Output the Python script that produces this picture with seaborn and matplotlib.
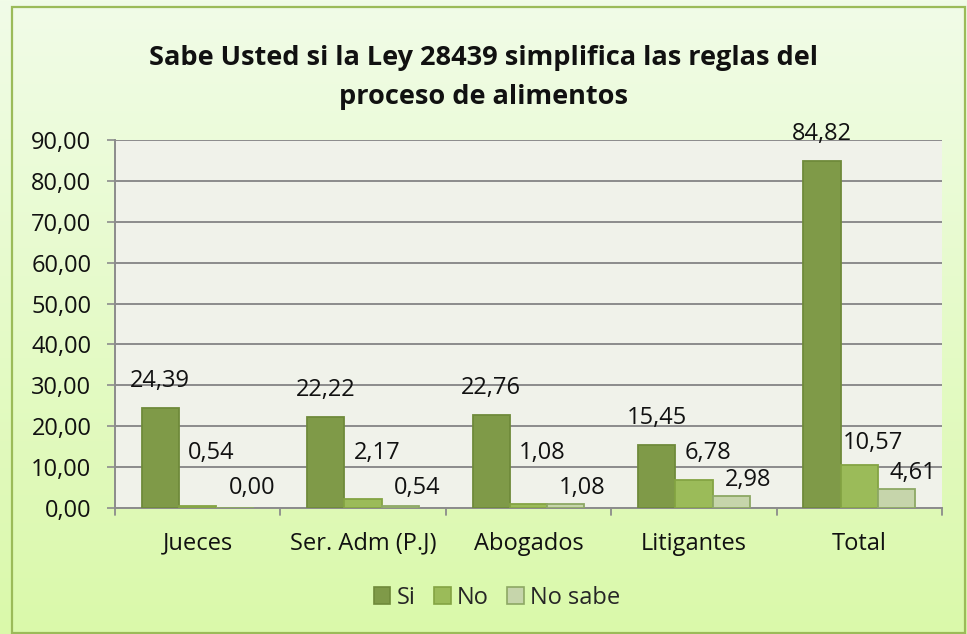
import numpy as np
import pandas as pd
import matplotlib
matplotlib.use("Agg")
import matplotlib.pyplot as plt
from matplotlib.patches import Rectangle
from matplotlib.colors import LinearSegmentedColormap
import seaborn as sns

categories = ["Jueces", "Ser. Adm (P.J)", "Abogados", "Litigantes", "Total"]
series = ["Si", "No", "No sabe"]
si_vals = [24.39, 22.22, 22.76, 15.45, 84.82]
no_vals = [0.54, 2.17, 1.08, 6.78, 10.57]
nosabe_vals = [0.00, 0.54, 1.08, 2.98, 4.61]
yticks = [0, 10, 20, 30, 40, 50, 60, 70, 80, 90]
title_lines = ["Sabe Usted si la Ley 28439 simplifica las reglas del", "proceso de alimentos"]

rows = []
for s, vals in zip(series, [si_vals, no_vals, nosabe_vals]):
    for c, v in zip(categories, vals):
        rows.append({"cat": c, "serie": s, "val": v})
df = pd.DataFrame(rows)

sns.set_theme(style="white")
plt.rcParams['font.family'] = ['Open Sans', 'DejaVu Sans']

W, H = 967, 634
fig = plt.figure(figsize=(W / 100, H / 100), dpi=100)

# gradient background with border
bg = fig.add_axes([0, 0, 1, 1], zorder=-10)
cmap = LinearSegmentedColormap.from_list("g", ["#F1FCE8", "#DAF9AA"])
grad = np.linspace(0, 1, 256).reshape(-1, 1)
bg.imshow(grad, aspect="auto", cmap=cmap, extent=[0, 1, 0, 1], origin="upper")
bg.set_xlim(0, 1); bg.set_ylim(0, 1)
bg.axis("off")
bg.add_patch(Rectangle((12 / W, 1 - 633 / H), (965 - 12) / W, (633 - 7) / H, fill=False,
                       edgecolor="#9BBB59", linewidth=1.6, transform=bg.transAxes))

L, R, T, B = 115, 942, 140, 508
ax = fig.add_axes([L / W, 1 - B / H, (R - L) / W, (B - T) / H])
ax.set_facecolor("#F0F2EA")

colors = {"Si": "#7F9A48", "No": "#9BBB59", "No sabe": "#C6D5AB"}
edges = {"Si": "#6F8A3A", "No": "#84A443", "No sabe": "#8DA864"}
sns.barplot(data=df, x="cat", y="val", hue="serie", palette=colors,
            width=0.677, ax=ax, saturation=1, legend=True, zorder=3)

ax.set_ylim(0, 90)
ax.set_xlim(-0.5, 4.5)

# label placement rule (Excel-like, keeps small labels clear of the axis)
label_rule = {"Si": (6.6, 0.0, 0), "No": (5.4, 13.45, 10), "No sabe": (3.9, 4.9, 12)}
for cont, s in zip(ax.containers, series):
    lift, floor, dx = label_rule[s]
    for p, v in zip(cont.patches, cont.datavalues):
        p.set_edgecolor(edges[s]); p.set_linewidth(1.3)
        xc = p.get_x() + p.get_width() / 2
        yc = max(v + lift, floor)
        ax.annotate(f"{v:.2f}".replace(".", ","), (xc, yc), xytext=(dx, 0),
                    textcoords="offset points", ha="center", va="center",
                    fontsize=17, color="#111111", zorder=6, annotation_clip=False)

ax.set_yticks(yticks)
ax.set_yticklabels([f"{v:.2f}".replace(".", ",") for v in yticks], fontsize=17, color="#111111")
ax.set_xticks(range(len(categories)))
ax.set_xticklabels(categories, fontsize=17, color="#111111")
ax.yaxis.grid(True, color="#8C8C8C", linewidth=1.4, zorder=0)
ax.set_axisbelow(True)
ax.set_xlabel(""); ax.set_ylabel("")
ax.tick_params(axis="x", length=0, pad=17)
ax.tick_params(axis="y", left=True, length=6, width=1.2, color="#8C8C8C", pad=11)
for sp in ["top", "right"]:
    ax.spines[sp].set_visible(False)
for sp in ["left", "bottom"]:
    ax.spines[sp].set_color("#8C8C8C")
    ax.spines[sp].set_linewidth(1.4)
# category separator ticks on x-axis
for xb in np.arange(-0.5, 5.0, 1.0):
    ax.plot([xb, xb], [0, -1.7], color="#8C8C8C", lw=1.3, clip_on=False, zorder=5)

handles, lbls = ax.get_legend_handles_labels()
ax.legend_.remove()
for h, s in zip(handles, series):
    h.set_edgecolor(edges[s]); h.set_linewidth(1.2)
fig.legend(handles, lbls, loc="center", bbox_to_anchor=(497 / W, 1 - 598 / H), ncol=3,
           frameon=False, fontsize=17, handlelength=0.7, handleheight=0.7,
           handletextpad=0.25, columnspacing=0.8)

fig.text(0.5, 1 - 58 / H, title_lines[0], ha="center", va="center",
         fontsize=19.5, fontweight="bold", color="#111111")
fig.text(0.5, 1 - 97 / H, title_lines[1], ha="center", va="center",
         fontsize=19.5, fontweight="bold", color="#111111")

fig.savefig("out.png", dpi=100)
